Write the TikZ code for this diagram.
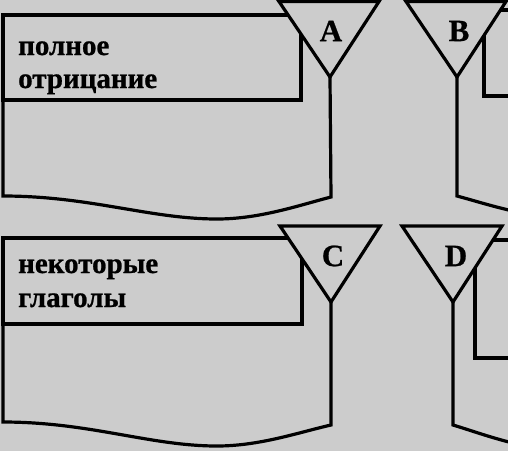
\documentclass[tikz,border=0pt]{standalone}
\usepackage{fontspec}
\setmainfont{Liberation Serif}[BoldFeatures={FakeBold=0.8}]
\usetikzlibrary{positioning}
\definecolor{scangray}{gray}{0.80}

\tikzset{
    inkline/.style={line width=3.2pt, line join=miter, draw=black},
    tagbox/.style={inkline, rectangle, anchor=north west, inner sep=0pt, outer sep=0pt},
    tagtext/.style={font=\bfseries\fontsize{29}{#1}\selectfont, align=left, anchor=base west, inner sep=0pt},
    tagtext/.default=33pt,
    funneltag/.style={font=\bfseries\fontsize{31}{31}\selectfont, inner sep=0pt}
}

\begin{document}
\begin{tikzpicture}[x=1pt,y=-1pt]
        % Page background and frame of the cut-out
        \fill[scangray] (0,0) rectangle (508,451);
        \useasboundingbox (0,0) rectangle (508,451);
        \clip (0,0) rectangle (508,451);

        % Upper row: label boxes
        \node[tagbox, minimum width=298pt, minimum height=85pt] (boxA) at (3,15) {};
        \node[tagbox, minimum width=100pt, minimum height=86pt] (boxB) at (484,10) {};
        % (base of a two-line node is its last line)
        \node[tagtext] (textA) at (18,88) {полное\\отрицание};

        % Draw the funnels over the boxes
        \foreach \ax/\lx/\nm in {330/331/A,457/459/B} {
            \draw[inkline, fill=scangray] (\ax-51,1.5) -- (\ax+49,1.5) -- (\ax,77) coordinate (apex\nm) -- cycle;
            \node[funneltag] (tag\nm) at (\lx,31) {\nm};
        }

        % Lower outlines with the wavy bottom
        \draw[inkline] (boxA.south west) -- (3,196)
            .. controls (90,196) and (150,219) .. (217,219)
            .. controls (260,219) and (300,205) .. (331,197) -- (apexA);
        \draw[inkline] (apexB) -- (457,196)
            .. controls (487,204) and (527,218) .. (570,218);

        % Lower row: label boxes
        \node[tagbox, minimum width=299pt, minimum height=86pt] (boxC) at (3,238) {};
        \node[tagbox, minimum width=100pt, minimum height=118pt] (boxD) at (475,240) {};
        \node[tagtext=34pt] (textC) at (18,307) {некоторые\\глаголы};

        % Draw the funnels over the boxes
        \foreach \ax/\lx/\nm in {331/333/C,453/456/D} {
            \draw[inkline, fill=scangray] (\ax-51,226) -- (\ax+49,226) -- (\ax,302) coordinate (apex\nm) -- cycle;
            \node[funneltag] (tag\nm) at (\lx,256) {\nm};
        }

        % Lower outlines with the wavy bottom
        \draw[inkline] (boxC.south west) -- (3,422)
            .. controls (90,422) and (150,446) .. (217,446)
            .. controls (260,446) and (300,432) .. (331,425) -- (apexC);
        \draw[inkline] (apexD) -- (453,425)
            .. controls (483,434) and (523,450) .. (566,450);
\end{tikzpicture}
\end{document}
